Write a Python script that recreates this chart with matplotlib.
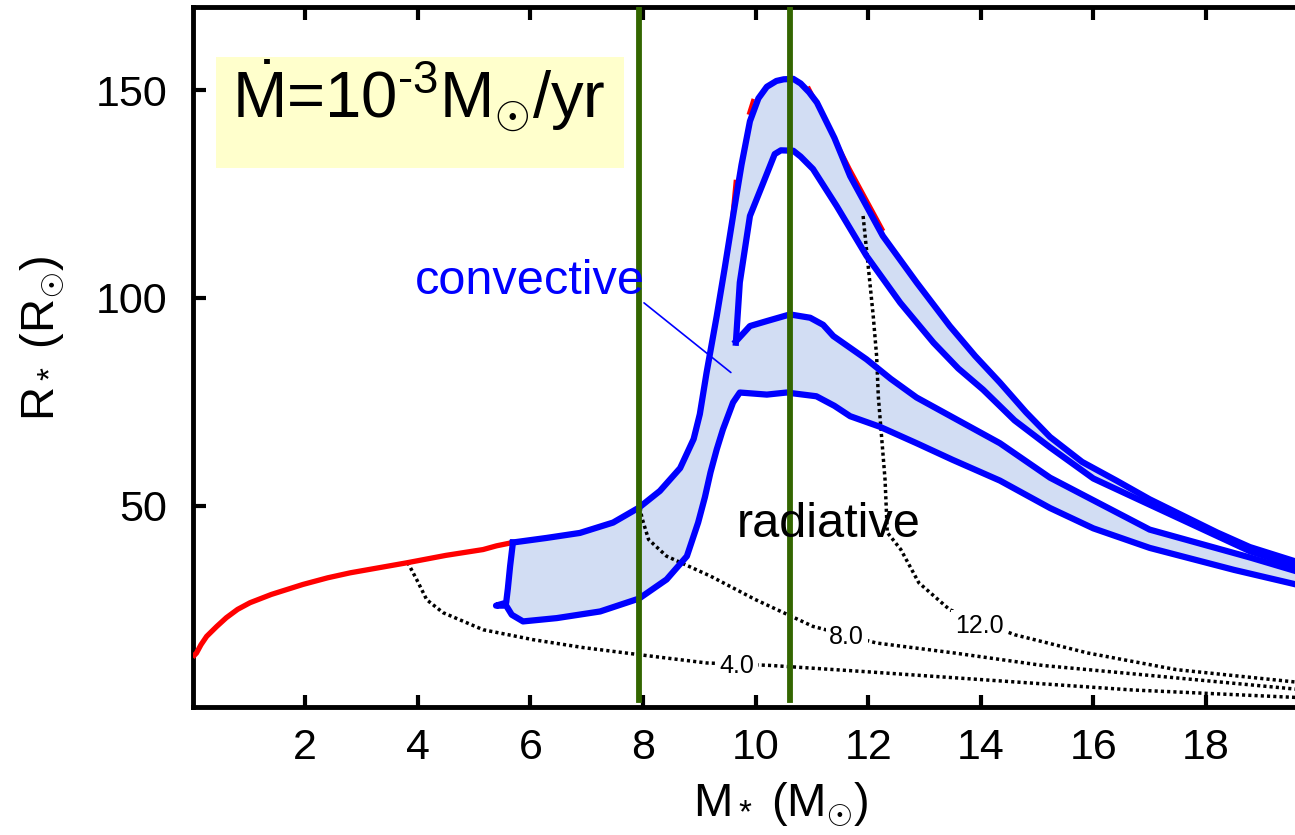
import numpy as np
import matplotlib
matplotlib.use("Agg")
import matplotlib.pyplot as plt
from matplotlib.patches import Rectangle

plt.rcParams['font.family'] = ['Liberation Sans', 'DejaVu Sans']
plt.rcParams['mathtext.fontset'] = 'custom'
plt.rcParams['mathtext.rm'] = 'Liberation Sans'
plt.rcParams['mathtext.it'] = 'Liberation Sans:italic'
plt.rcParams['mathtext.bf'] = 'Liberation Sans:bold'

# red (non-convective) early track
red_x = [0.0, 0.07, 0.15, 0.25, 0.43, 0.6, 0.8, 1.02, 1.4, 1.96, 2.4, 2.8, 3.3, 3.8,
         4.5, 5.16, 5.4, 5.69]
red_y = [13.5, 14.5, 16.5, 18.5, 20.9, 23.0, 25.0, 26.6, 28.6, 31.0, 32.6, 33.8, 35.0,
         36.2, 38.0, 39.4, 40.3, 41.1]

# outer upper boundary of the convective zone
upper_x = [5.69, 6.29, 6.88, 7.47, 7.93, 8.3, 8.66, 8.9, 9.01, 9.13, 9.31, 9.45,
           9.6, 9.75, 9.9, 10.05, 10.2, 10.37, 10.5, 10.67, 10.8, 10.95, 11.09, 11.4,
           11.68, 12.26, 12.86, 13.45, 13.9, 14.34, 14.8, 15.23, 15.8, 16.41, 17.0,
           17.6, 18.2, 18.78, 19.6]
upper_y = [41.1, 42.2, 43.4, 45.9, 49.5, 53.5, 59.0, 66.0, 72.0, 82.0, 95.6, 107.0,
           119.7, 132.0, 142.5, 148.0, 150.8, 152.2, 152.6, 152.7, 151.6, 149.5, 147.0,
           138.5, 129.3, 114.9, 103.7, 93.2, 86.0, 79.6, 72.5, 66.5, 60.5, 56.0, 51.5,
           47.5, 43.5, 40.0, 36.5]

# lower boundary (incl. the small spur at the left end)
lower_x = [5.69, 5.64, 5.6, 5.57, 5.39, 5.57, 5.67, 5.87, 6.47, 7.24, 7.93, 8.42,
           8.78, 8.98, 9.1, 9.2, 9.31, 9.42, 9.6, 9.72, 10.2, 10.55, 11.08, 11.4,
           11.68, 12.2, 12.86, 13.5, 14.34, 15.23, 16.0, 17.0, 18.5, 19.6]
lower_y = [41.1, 35.4, 30.0, 26.6, 25.9, 25.9, 23.7, 22.1, 22.9, 24.5, 27.6, 32.2,
           37.8, 45.9, 52.0, 58.0, 63.5, 68.3, 74.8, 77.2, 76.7, 77.2, 76.3, 74.0,
           71.5, 69.0, 65.0, 61.0, 56.0, 49.4, 44.5, 39.8, 34.5, 31.0]

# inner (radiative hole) boundaries
inner_x = [9.65, 9.72, 9.9, 10.14, 10.34, 10.45, 10.67, 10.8, 11.02, 11.44, 11.97,
           12.57, 13.16, 13.6, 14.04, 14.6, 15.23, 16.0, 17.0, 18.78, 19.6]
inner_y = [89.2, 103.7, 119.7, 127.8, 134.6, 135.5, 135.4, 134.0, 131.0, 122.1, 110.1,
           98.8, 89.2, 83.0, 77.9, 70.5, 64.0, 56.5, 50.2, 39.0, 35.4]
mid_x = [9.65, 9.9, 10.2, 10.61, 10.97, 11.2, 11.38, 11.97, 12.4, 12.86, 13.6, 14.34,
         15.23, 17.0, 18.78, 19.6]
mid_y = [89.5, 93.2, 94.4, 96.0, 95.2, 93.5, 90.8, 85.2, 80.5, 76.0, 70.5, 65.0,
         56.7, 44.2, 37.5, 34.2]

# red bits peeking out near the peak
red_peak = [([9.57, 9.64], [118.0, 128.0]),
            ([9.88, 9.95], [144.5, 147.5]),
            ([10.95, 11.68, 12.26], [150.5, 131.0, 116.5])]

# dotted lines with labels
dot4_x = [3.82, 3.98, 4.16, 4.45, 5.16, 6.05, 6.94, 7.93, 9.13, 10.27, 11.96, 14.32,
          16.69, 19.6]
dot4_y = [36.3, 32.2, 27.3, 24.2, 20.1, 17.7, 15.8, 14.1, 12.1, 11.5, 10.0, 7.8,
          5.6, 3.8]
dot8_x = [7.95, 7.98, 8.1, 8.42, 9.2, 9.99, 11.02, 12.15, 13.53, 15.1, 16.69, 19.6]
dot8_y = [49.5, 47.1, 41.8, 37.8, 33.0, 27.4, 20.9, 16.9, 14.5, 11.5, 9.5, 5.8]
dot12_x = [11.91, 11.97, 12.03, 12.09, 12.15, 12.18, 12.3, 12.34, 12.58, 12.9, 13.45,
           14.6, 15.9, 17.47, 19.6]
dot12_y = [119.7, 111.7, 103.7, 95.6, 86.0, 76.3, 56.2, 43.5, 39.4, 31.4, 24.9,
           18.9, 14.5, 10.5, 7.5]
dot_labels = ['4.0', '8.0', '12.0']
dot_label_x = [9.67, 11.62, 13.97]
dot_label_y = [11.3, 18.3, 21.1]

green_x = [7.93, 10.61]

x_ticks = [2, 4, 6, 8, 10, 12, 14, 16, 18]
y_ticks = [50, 100, 150]

fig = plt.figure(figsize=(12.95, 8.35), dpi=100)
ax = fig.add_axes([0.1487, 0.1533, 0.8695, 0.8383])

fill_c = '#d2ddf3'
ax.fill(upper_x + lower_x[::-1], upper_y + lower_y[::-1], color=fill_c, lw=0, zorder=1)
ax.fill(inner_x + mid_x[::-1], inner_y + mid_y[::-1], color='white', lw=0, zorder=1.1)

for rx, ry in red_peak:
    ax.plot(rx, ry, color='red', lw=2.5, zorder=2)
ax.plot(red_x, red_y, color='red', lw=3.8, zorder=3, solid_capstyle='butt')

blue_kw = dict(color='blue', lw=4.5, zorder=3, solid_joinstyle='round')
ax.plot(upper_x, upper_y, **blue_kw)
ax.plot(lower_x, lower_y, **blue_kw)
ax.plot(inner_x, inner_y, **blue_kw)
ax.plot(mid_x, mid_y, **blue_kw)

dot_kw = dict(color='black', lw=2.5, ls=(0, (0.9, 0.9)), zorder=2.5)
ax.plot(dot4_x, dot4_y, **dot_kw)
ax.plot(dot8_x, dot8_y, **dot_kw)
ax.plot(dot12_x, dot12_y, **dot_kw)
for lab, lx, ly in zip(dot_labels, dot_label_x, dot_label_y):
    ax.text(lx, ly, lab, fontsize=18, ha='center', va='center', zorder=4,
            bbox=dict(boxstyle='square,pad=0.15', fc='white', ec='none'))

for gx in green_x:
    ax.axvline(gx, ymin=0.01, ymax=1, color='#336600', lw=4.2, zorder=5)

ax.text(3.95, 101, 'convective', color='blue', fontsize=35, va='baseline', zorder=6)
ax.annotate('', xy=(9.6, 81.6), xytext=(7.98, 99.2),
            arrowprops=dict(arrowstyle='-', color='blue', lw=1.2), zorder=6)
ax.text(9.67, 42.5, 'radiative', color='black', fontsize=35, va='baseline', zorder=6)

ax.add_patch(Rectangle((0.0208, 0.77), 0.362, 0.159, transform=ax.transAxes,
                       fc='#ffffcc', ec='none', zorder=6))
ax.text(0.035, 0.841, r'$\dot{\mathrm{M}}$=10$^{\text{-}3}$M$_{\odot}$/yr',
        transform=ax.transAxes, fontsize=47, va='baseline', zorder=7)

ax.set_xlim(0, 20)
ax.set_ylim(1.5, 170)
ax.set_xticks(x_ticks)
ax.set_yticks(y_ticks)
ax.tick_params(direction='in', length=9, width=3, top=True, right=True,
               labelsize=31)
ax.tick_params(axis='y', pad=18)
ax.tick_params(axis='x', pad=15)
for s in ax.spines.values():
    s.set_linewidth(3.5)

ax.set_xlabel(r'M$_*$ (M$_{\odot}$)', fontsize=34)
ax.xaxis.set_label_coords(0.522, -0.105)
ax.set_ylabel(r'R$_*$ (R$_{\odot}$)', fontsize=34)
ax.yaxis.set_label_coords(-0.112, 0.527)

fig.savefig('out.png', dpi=100)
